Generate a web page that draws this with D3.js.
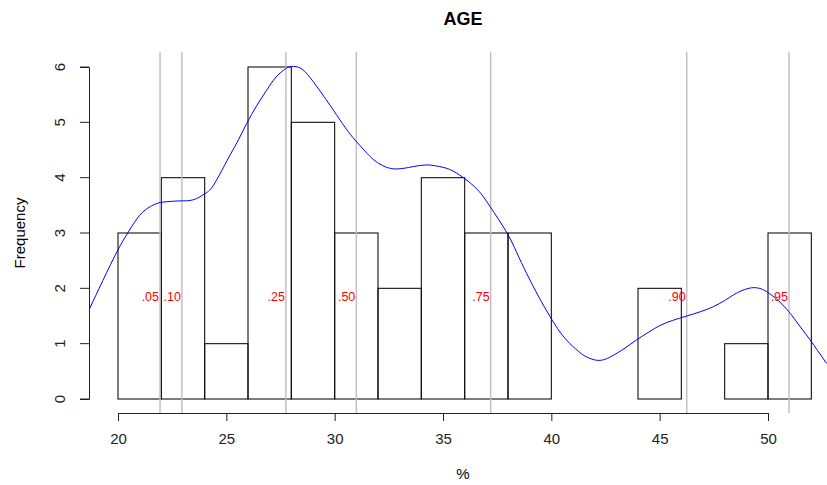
<!DOCTYPE html>
<html>
<head>
<meta charset="utf-8">
<script src="https://cdn.jsdelivr.net/npm/d3@7"></script>
<style>
  body { margin: 0; background: #fff; }
  text { font-family: "Liberation Sans", Arial, sans-serif; }
</style>
</head>
<body>
<div id="chart"></div>
<script>
// histogram bins (width 2) and counts
var binStart = [20, 22, 24, 26, 28, 30, 32, 34, 36, 38, 40, 42, 44, 46, 48, 50];
var binCount = [3, 4, 1, 6, 5, 3, 2, 4, 3, 3, 0, 0, 2, 0, 1, 3];
var binWidth = 2;

// quantiles
var qLabels = [".05", ".10", ".25", ".50", ".75", ".90", ".95"];
var qValues = [21.94, 22.95, 27.75, 31.0, 37.2, 46.25, 50.97];
var labelLevel = 1.85;

// density curve scaled to frequency
var densX = [18.66, 19.3, 19.99, 20.48, 21.0, 21.5, 21.94, 22.4, 22.86, 23.47, 23.97, 24.4, 25.02, 25.5, 25.94, 26.4, 26.86, 27.3, 27.78, 28.09, 28.5, 29.0, 29.5, 29.94, 30.5, 30.94, 31.4, 31.78, 32.2, 32.7, 33.2, 33.63, 34.2, 34.71, 35.3, 35.94, 36.6, 37.17, 37.94, 38.4, 38.86, 39.4, 39.94, 40.4, 40.86, 41.32, 41.63, 42.09, 42.5, 42.86, 43.4, 43.94, 44.5, 45.02, 45.6, 46.25, 46.9, 47.48, 48.0, 48.4, 48.8, 49.25, 49.6, 49.94, 50.5, 51.02, 51.5, 51.94, 52.3, 52.71];
var densY = [1.61, 2.14, 2.69, 3.02, 3.32, 3.48, 3.55, 3.57, 3.58, 3.6, 3.7, 3.86, 4.3, 4.64, 4.98, 5.3, 5.58, 5.82, 5.98, 6.01, 5.96, 5.74, 5.47, 5.22, 4.9, 4.68, 4.48, 4.33, 4.22, 4.16, 4.17, 4.2, 4.23, 4.21, 4.15, 4.0, 3.78, 3.48, 3.01, 2.65, 2.27, 1.86, 1.49, 1.21, 1.0, 0.84, 0.76, 0.7, 0.72, 0.79, 0.92, 1.07, 1.21, 1.33, 1.42, 1.5, 1.58, 1.67, 1.78, 1.88, 1.96, 2.01, 2.0, 1.94, 1.77, 1.55, 1.3, 1.07, 0.87, 0.64];

var xTicks = [20, 25, 30, 35, 40, 45, 50];
var yTicks = [0, 1, 2, 3, 4, 5, 6];

var W = 827, H = 485;
var plot = {left: 89, right: 827, top: 52, bottom: 413};

var svg = d3.select("#chart").append("svg")
  .attr("width", W)
  .attr("height", H);

var x = d3.scaleLinear().domain([20, 50]).range([118, 768]);
var y = d3.scaleLinear().domain([0, 6]).range([399, 67]);

svg.append("defs").append("clipPath").attr("id", "clip")
  .append("rect")
  .attr("x", plot.left).attr("y", plot.top)
  .attr("width", plot.right - plot.left).attr("height", plot.bottom - plot.top);

// title
svg.append("text")
  .attr("x", 463).attr("y", 25)
  .attr("text-anchor", "middle")
  .style("font-size", "18px")
  .style("font-weight", "bold")
  .text("AGE");

// bars
var bins = binStart.map(function(s, i) { return {x0: s, x1: s + binWidth, n: binCount[i]}; });
svg.append("g").selectAll("rect")
  .data(bins)
  .enter().append("rect")
  .attr("x", function(d) { return x(d.x0); })
  .attr("y", function(d) { return y(d.n); })
  .attr("width", function(d) { return x(d.x1) - x(d.x0); })
  .attr("height", function(d) { return y(0) - y(d.n); })
  .attr("fill", "none")
  .attr("stroke", "#111")
  .attr("stroke-width", 1.1);

// quantile lines
svg.append("g").selectAll("line")
  .data(qValues)
  .enter().append("line")
  .attr("x1", function(d) { return x(d); })
  .attr("x2", function(d) { return x(d); })
  .attr("y1", plot.top)
  .attr("y2", plot.bottom)
  .attr("stroke", "#bebebe")
  .attr("stroke-width", 1.4);

// density
var line = d3.line()
  .curve(d3.curveNatural)
  .x(function(d, i) { return x(d); })
  .y(function(d, i) { return y(densY[i]); });

svg.append("path")
  .attr("clip-path", "url(#clip)")
  .attr("d", line(densX))
  .attr("fill", "none")
  .attr("stroke", "#0000ff")
  .attr("stroke-width", 1);

// quantile labels
svg.append("g").selectAll("text")
  .data(qValues)
  .enter().append("text")
  .attr("x", function(d) { return x(d) - 1; })
  .attr("y", y(labelLevel))
  .attr("dy", "0.35em")
  .attr("text-anchor", "end")
  .style("font-size", "12.5px")
  .attr("fill", "#ff0000")
  .text(function(d, i) { return qLabels[i]; });

// x axis
var gx = svg.append("g")
  .attr("transform", "translate(0," + plot.bottom + ")")
  .call(d3.axisBottom(x).tickValues(xTicks).tickSize(8).tickPadding(12));
gx.selectAll("text").style("font-size", "15px").attr("fill", "#222");

// y axis
var gy = svg.append("g")
  .attr("transform", "translate(" + plot.left + ",0)")
  .call(d3.axisLeft(y).tickValues(yTicks).tickFormat(d3.format("d")).tickSize(9).tickPadding(0));
gy.selectAll("text")
  .style("font-size", "15px")
  .attr("fill", "#222")
  .attr("text-anchor", "middle")
  .attr("transform", function(d) { return "translate(-29," + y(d) + ") rotate(-90)"; })
  .attr("x", 0)
  .attr("dy", "0.35em");
gy.selectAll(".tick").attr("transform", null);
gy.selectAll(".tick line").attr("transform", function(d) { return "translate(0," + y(d) + ")"; });

[gx, gy].forEach(function(g) {
  g.select(".domain").attr("stroke", "#222");
  g.selectAll(".tick line").attr("stroke", "#222");
});

// axis titles
svg.append("text")
  .attr("x", 463).attr("y", 474)
  .attr("dy", "0.35em")
  .attr("text-anchor", "middle")
  .style("font-size", "15px")
  .text("%");

svg.append("text")
  .attr("transform", "translate(20,233) rotate(-90)")
  .attr("dy", "0.35em")
  .attr("text-anchor", "middle")
  .style("font-size", "15px")
  .text("Frequency");
</script>
</body>
</html>
